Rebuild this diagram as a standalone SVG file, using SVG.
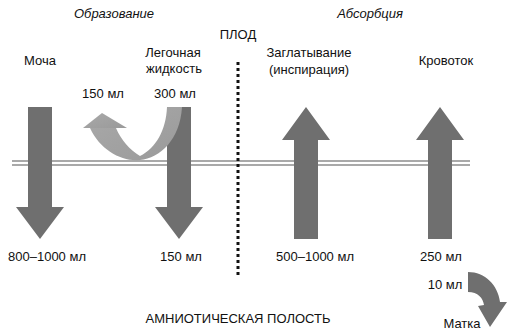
<svg xmlns="http://www.w3.org/2000/svg" width="530" height="335" viewBox="0 0 530 335">
<defs>
<style>
text{font-family:"Liberation Sans",Arial,sans-serif;font-size:13px;fill:#111;text-anchor:middle}
.it{font-style:italic}
.arr{fill:#6f6f6f}
.base{stroke:#8c8c8c;stroke-width:1.3;fill:none}
</style>
<linearGradient id="rib" x1="0" y1="0" x2="1" y2="1">
<stop offset="0" stop-color="#a9a9a9"/>
<stop offset="1" stop-color="#9a9a9a"/>
</linearGradient>
</defs>
<rect width="530" height="335" fill="#fff"/>
<g id="labels">
<text class="it" x="114" y="18">Образование</text>
<text class="it" x="370" y="18">Абсорбция</text>
<text x="238" y="39">ПЛОД</text>
<text x="238" y="323">АМНИОТИЧЕСКАЯ ПОЛОСТЬ</text>
</g>
<g id="membrane">
<line class="base" x1="12" y1="161" x2="470" y2="161"/>
<line class="base" x1="12" y1="165" x2="470" y2="165"/>
</g>
<g id="divider">
<line x1="238" y1="62" x2="238" y2="278" stroke="#111" stroke-width="3" stroke-dasharray="3 3"/>
</g>
<g id="urine">
<path class="arr" d="M28 107H52V207H64L40 239L16 207H28Z"/>
<text x="40" y="65">Моча</text>
<text x="47" y="261">800–1000 мл</text>
</g>
<g id="lung">
<path class="arr" d="M167 107H191V207H203L179 239L155 207H167Z"/>
<path fill="url(#rib)" d="M90 128C100 150 122 162 140 160C160 158 180 140 182 107L167 107C166 130 156 148 140 156C130 150 121 140 116 128Z"/>
<path fill="url(#rib)" d="M102 113L127 128L83 128Z"/>
<text x="173" y="57">Легочная</text>
<text x="174" y="73">жидкость</text>
<text x="103" y="98">150 мл</text>
<text x="175" y="98">300 мл</text>
<text x="181" y="261">150 мл</text>
</g>
<g id="swallow">
<path class="arr" d="M306 107L330 140H318V239H294V140H282Z"/>
<text x="309" y="57">Заглатывание</text>
<text x="309" y="74">(инспирация)</text>
<text x="315" y="261">500–1000 мл</text>
</g>
<g id="blood">
<path class="arr" d="M440 107L464 140H452V239H428V140H416Z"/>
<text x="446" y="65">Кровоток</text>
<text x="441" y="261">250 мл</text>
</g>
<g id="uterus">
<path class="arr" d="M468 272C485 272 498 285 500 302L507 302L490 327L478 306L484 305C483 298 478 292 468 292Z"/>
<text x="445" y="289">10 мл</text>
<text x="462" y="328">Матка</text>
</g>
</svg>
